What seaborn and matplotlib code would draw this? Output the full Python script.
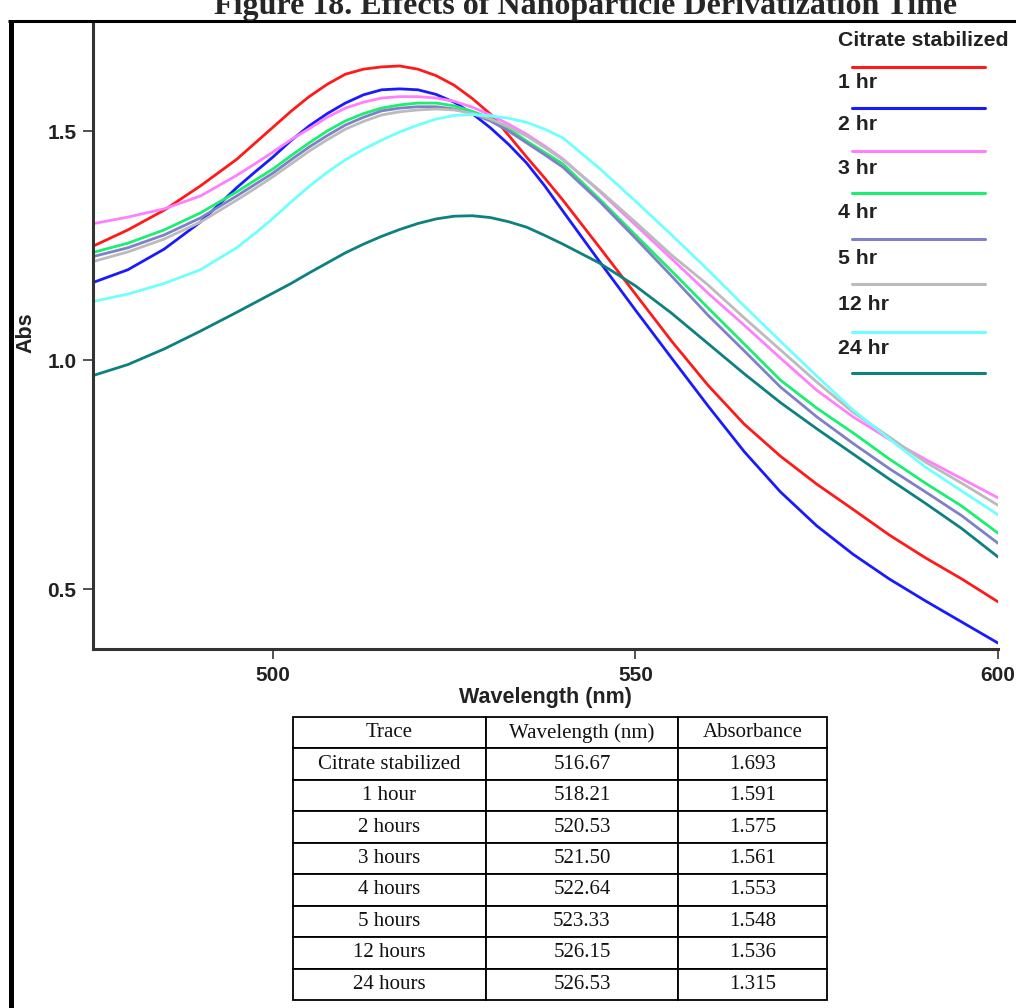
import numpy as np
import pandas as pd
import matplotlib
matplotlib.use("Agg")
import matplotlib.pyplot as plt
from matplotlib.lines import Line2D
import seaborn as sns

# ---- spectra (absorbance vs wavelength) ----
wavelength_nm = [475, 480, 485, 490, 495, 497.5, 500, 502.5, 505, 507.5, 510, 512.5,
                 515, 517.5, 520, 522.5, 525, 527.5, 530, 532.5, 535, 537.5, 540,
                 545, 550, 555, 560, 565, 570, 575, 580, 585, 590, 595, 600]

abs_citrate = [1.247, 1.284, 1.327, 1.380, 1.438, 1.473, 1.508, 1.543, 1.575, 1.602,
               1.624, 1.635, 1.640, 1.642, 1.635, 1.621, 1.600, 1.571, 1.537, 1.491,
               1.443, 1.397, 1.349, 1.247, 1.144, 1.041, 0.945, 0.860, 0.790, 0.729,
               0.674, 0.618, 0.568, 0.522, 0.472]
abs_1hr = [1.168, 1.197, 1.242, 1.301, 1.376, 1.410, 1.443, 1.479, 1.511, 1.538,
           1.561, 1.579, 1.590, 1.592, 1.590, 1.580, 1.563, 1.538, 1.507, 1.471,
           1.430, 1.380, 1.325, 1.216, 1.109, 1.004, 0.900, 0.800, 0.712, 0.638,
           0.576, 0.522, 0.474, 0.428, 0.382]
abs_2hr = [1.297, 1.312, 1.330, 1.358, 1.403, 1.428, 1.454, 1.481, 1.505, 1.530,
           1.550, 1.563, 1.572, 1.575, 1.575, 1.572, 1.565, 1.552, 1.535, 1.515,
           1.493, 1.467, 1.439, 1.369, 1.295, 1.221, 1.146, 1.076, 1.004, 0.934,
           0.876, 0.827, 0.783, 0.741, 0.699]
abs_3hr = [1.234, 1.255, 1.284, 1.321, 1.367, 1.392, 1.417, 1.446, 1.474, 1.500,
           1.522, 1.538, 1.550, 1.557, 1.561, 1.561, 1.555, 1.543, 1.528, 1.505,
           1.478, 1.453, 1.428, 1.352, 1.273, 1.194, 1.114, 1.035, 0.956, 0.895,
           0.841, 0.784, 0.731, 0.681, 0.622]
abs_4hr = [1.225, 1.245, 1.273, 1.310, 1.358, 1.383, 1.408, 1.437, 1.465, 1.490,
           1.513, 1.530, 1.544, 1.550, 1.553, 1.553, 1.548, 1.538, 1.522, 1.500,
           1.474, 1.448, 1.421, 1.347, 1.266, 1.183, 1.098, 1.020, 0.941, 0.876,
           0.818, 0.763, 0.712, 0.660, 0.600]
abs_5hr = [1.214, 1.236, 1.264, 1.301, 1.349, 1.374, 1.400, 1.428, 1.456, 1.481,
           1.504, 1.521, 1.535, 1.542, 1.546, 1.548, 1.546, 1.539, 1.526, 1.509,
           1.489, 1.464, 1.437, 1.371, 1.301, 1.229, 1.164, 1.092, 1.022, 0.952,
           0.886, 0.832, 0.777, 0.731, 0.683]
abs_12hr = [1.127, 1.144, 1.167, 1.197, 1.245, 1.276, 1.309, 1.345, 1.379, 1.410,
            1.437, 1.460, 1.480, 1.498, 1.513, 1.526, 1.534, 1.536, 1.533, 1.528,
            1.519, 1.504, 1.485, 1.419, 1.347, 1.273, 1.197, 1.118, 1.041, 0.965,
            0.891, 0.828, 0.766, 0.714, 0.662]
abs_24hr = [0.965, 0.990, 1.024, 1.063, 1.104, 1.125, 1.146, 1.167, 1.190, 1.212,
            1.234, 1.253, 1.270, 1.285, 1.298, 1.308, 1.314, 1.315, 1.311, 1.302,
            1.290, 1.272, 1.253, 1.212, 1.162, 1.102, 1.036, 0.970, 0.907, 0.850,
            0.795, 0.740, 0.687, 0.632, 0.570]

trace_labels = ["Citrate stabilized", "1 hr", "2 hr", "3 hr", "4 hr", "5 hr", "12 hr", "24 hr"]
trace_values = [abs_citrate, abs_1hr, abs_2hr, abs_3hr, abs_4hr, abs_5hr, abs_12hr, abs_24hr]
trace_colors = ["#ff1a1a", "#1a1aff", "#ff80ff", "#1aef70", "#8080c8", "#bbbbbb", "#70ffff", "#0d8080"]

# ---- peak table ----
table_header = ["Trace", "Wavelength (nm)", "Absorbance"]
table_trace = ["Citrate stabilized", "1 hour", "2 hours", "3 hours", "4 hours",
               "5 hours", "12 hours", "24 hours"]
table_wavelength = ["516.67", "518.21", "520.53", "521.50", "522.64", "523.33", "526.15", "526.53"]
table_absorbance = ["1.693", "1.591", "1.575", "1.561", "1.553", "1.548", "1.536", "1.315"]

title_text = "Figure 18. Effects of Nanoparticle Derivatization Time"

# ---- figure ----
sns.set_style("ticks")
plt.rcParams["font.family"] = ["Liberation Sans", "DejaVu Sans"]

W, H = 1016, 1008
fig = plt.figure(figsize=(W / 100, H / 100), dpi=100)

ax_l, ax_r, ax_t, ax_b = 93, 998, 22, 649
ax = fig.add_axes([ax_l / W, 1 - ax_b / H, (ax_r - ax_l) / W, (ax_b - ax_t) / H])

frames = []
for lab, vals in zip(trace_labels, trace_values):
    frames.append(pd.DataFrame({"Wavelength": wavelength_nm, "Abs": vals, "Trace": lab}))
df = pd.concat(frames, ignore_index=True)

sns.lineplot(data=df, x="Wavelength", y="Abs", hue="Trace", hue_order=trace_labels,
             palette=dict(zip(trace_labels, trace_colors)), estimator=None,
             linewidth=2.0, legend=False, ax=ax)

ax.set_xlim(475.2, 600)
ax.set_ylim(0.369, 1.738)
ax.set_xticks([500, 550, 600])
ax.set_yticks([0.5, 1.0, 1.5])
ax.set_xticklabels(["500", "550", "600"])
ax.set_yticklabels(["0.5", "1.0", "1.5"])
for s in ["top", "right"]:
    ax.spines[s].set_visible(False)
for s in ["left", "bottom"]:
    ax.spines[s].set_color("#333333")
    ax.spines[s].set_linewidth(2.2)
ax.tick_params(direction="out", length=7, width=1.3, color="#444444",
               labelsize=15, pad=5, labelcolor="#222222")
for t in ax.get_xticklabels() + ax.get_yticklabels():
    t.set_fontweight("bold")
ax.set_xlabel("Wavelength (nm)", fontsize=15.5, fontweight="bold", color="#222222")
ax.set_ylabel("Abs", fontsize=15.5, fontweight="bold", color="#222222")
ax.xaxis.set_label_coords((545 - ax_l) / (ax_r - ax_l), (ax_b - 697) / (ax_b - ax_t))
ax.yaxis.set_label_coords((26 - ax_l) / (ax_r - ax_l), (ax_b - 333) / (ax_b - ax_t))
ax.xaxis.label.set_va("center")
ax.yaxis.label.set_va("center")


# stacked legend: label above its line sample
def to_ax(px, py):
    return (px - ax_l) / (ax_r - ax_l), (ax_b - py) / (ax_b - ax_t)


text_y = [41, 83, 125, 168, 213, 258, 305, 348]
line_y = [66.7, 107.7, 150.7, 193.3, 239.3, 284, 331.7, 372.7]
for lab, col, ty, ly in zip(trace_labels, trace_colors, text_y, line_y):
    tx, tyy = to_ax(838, ty)
    ax.text(tx, tyy, lab, transform=ax.transAxes, ha="left", va="center",
            fontsize=15.3, fontweight="bold", color="#222222")
    x0, yy = to_ax(852, ly)
    x1, _ = to_ax(985, ly)
    ax.add_line(Line2D([x0, x1], [yy, yy], transform=ax.transAxes, color=col,
                       linewidth=2.2, clip_on=False))

# title (partly above the page frame)
fig.text(586 / W, 1 - 14 / H, title_text, ha="center", va="baseline",
         fontsize=23, fontweight="bold", family=["Liberation Serif", "DejaVu Serif"])

# page frame: top rule and heavy left rule
fig.add_artist(Line2D([8 / W, 1], [1 - 21 / H, 1 - 21 / H], transform=fig.transFigure,
                      color="black", linewidth=2.2, solid_capstyle="butt"))
fig.add_artist(Line2D([10.5 / W, 10.5 / W], [0, 1 - 20 / H], transform=fig.transFigure,
                      color="black", linewidth=3.6, solid_capstyle="butt"))

# peak table
tl, tr, tt, tb = 293, 827, 717, 1000
tax = fig.add_axes([tl / W, 1 - tb / H, (tr - tl) / W, (tb - tt) / H])
tax.axis("off")
cells = [list(r) for r in zip(table_trace, table_wavelength, table_absorbance)]
col_w = np.array([193, 192, 149]) / 534
tbl = tax.table(cellText=cells, colLabels=table_header, cellLoc="center",
                colWidths=list(col_w), bbox=[0, 0, 1, 1])
tbl.auto_set_font_size(False)
tbl.set_fontsize(15)
for (r, c), cell in tbl.get_celld().items():
    cell.set_edgecolor("black")
    cell.set_linewidth(1.3)
    cell.set_facecolor("white")
    cell.get_text().set_fontfamily(["Liberation Serif", "DejaVu Serif"])
    cell.get_text().set_color("#111111")

fig.savefig("out.png", dpi=100, facecolor="white")
